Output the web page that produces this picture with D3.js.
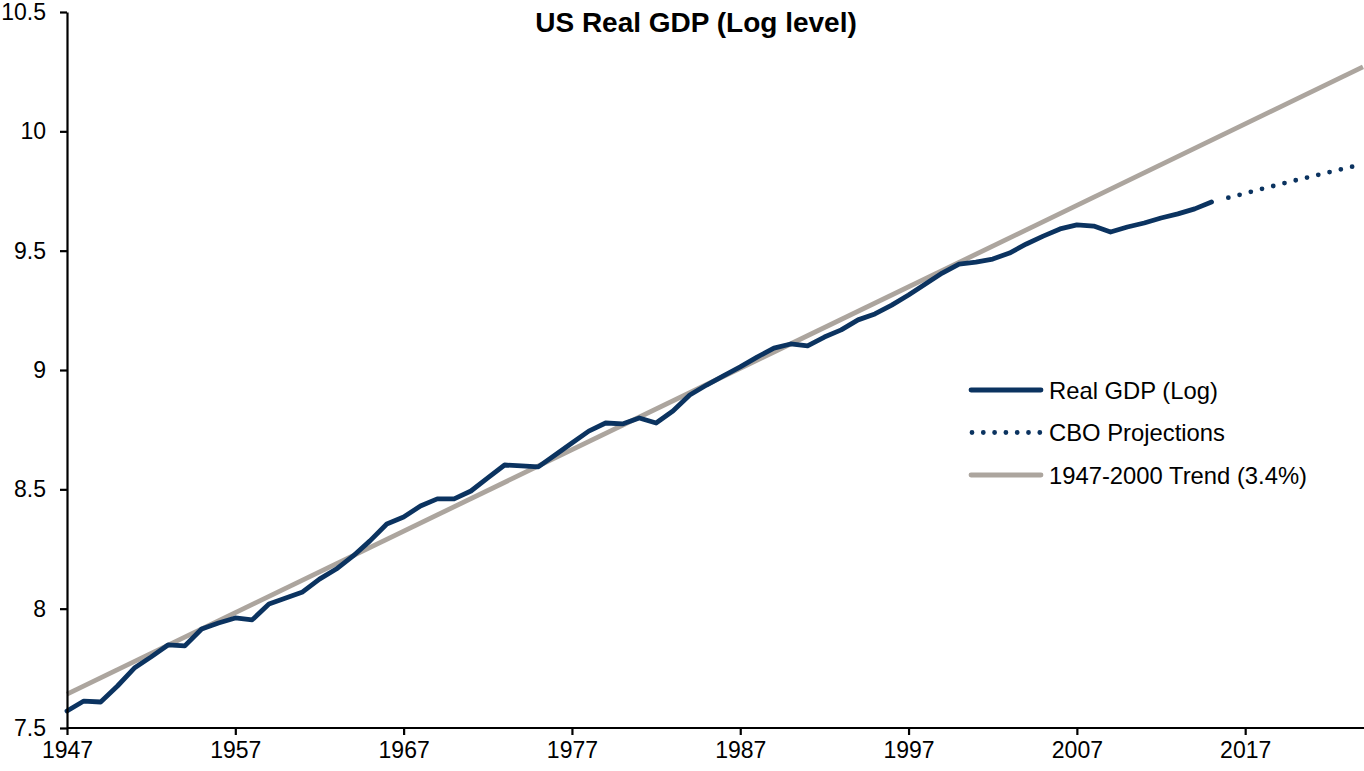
<!DOCTYPE html>
<html>
<head>
<meta charset="utf-8">
<script src="https://cdn.jsdelivr.net/npm/d3@7"></script>
<style>
  body { margin: 0; background: #fff; }
  text { font-family: "Liberation Sans", Arial, sans-serif; }
</style>
</head>
<body>
<div id="graph"></div>
<script>
// data
var years = [1947, 1948, 1949, 1950, 1951, 1952, 1953, 1954, 1955, 1956,
             1957, 1958, 1959, 1960, 1961, 1962, 1963, 1964, 1965, 1966,
             1967, 1968, 1969, 1970, 1971, 1972, 1973, 1974, 1975, 1976,
             1977, 1978, 1979, 1980, 1981, 1982, 1983, 1984, 1985, 1986,
             1987, 1988, 1989, 1990, 1991, 1992, 1993, 1994, 1995, 1996,
             1997, 1998, 1999, 2000, 2001, 2002, 2003, 2004, 2005, 2006,
             2007, 2008, 2009, 2010, 2011, 2012, 2013, 2014, 2015];
var realGdp = [7.571, 7.613, 7.609, 7.676, 7.751, 7.798, 7.848, 7.844, 7.915, 7.940,
               7.961, 7.953, 8.020, 8.045, 8.070, 8.124, 8.166, 8.221, 8.284, 8.355,
               8.384, 8.430, 8.460, 8.460, 8.493, 8.548, 8.602, 8.598, 8.594, 8.644,
               8.694, 8.744, 8.778, 8.774, 8.799, 8.778, 8.828, 8.895, 8.937, 8.975,
               9.013, 9.054, 9.092, 9.109, 9.101, 9.138, 9.168, 9.210, 9.235, 9.272,
               9.314, 9.360, 9.406, 9.444, 9.452, 9.465, 9.490, 9.528, 9.561, 9.591,
               9.608, 9.603, 9.578, 9.599, 9.616, 9.637, 9.654, 9.675, 9.704];

var cboYears = [2015, 2016, 2017, 2018, 2019, 2020, 2021, 2022, 2023, 2024];
var cboValues = [9.704, 9.722, 9.740, 9.759, 9.777, 9.795, 9.812, 9.829, 9.846, 9.863];

var trendYears = [1947, 2024];
var trendValues = [7.642, 10.270];

var xTicks = [1947, 1957, 1967, 1977, 1987, 1997, 2007, 2017];
var yTicks = [7.5, 8, 8.5, 9, 9.5, 10, 10.5];

var seriesNames = ["Real GDP (Log)", "CBO Projections", "1947-2000 Trend (3.4%)"];

var navy = "#0b3360";
var grey = "#aca59e";

var width = 1364, height = 771;

var svg = d3.select("#graph")
            .append("svg")
            .attr("width", width).attr("height", height);

// scales
var xScale = d3.scaleLinear().domain([1947, 2024]).range([67, 1363]);
var yScale = d3.scaleLinear().domain([7.5, 10.5]).range([728, 12]);

var line = d3.line()
    .x(function(d) { return xScale(d[0]); })
    .y(function(d) { return yScale(d[1]); });

// trend line (drawn first, under the GDP line)
svg.append("path")
   .datum(d3.zip(trendYears, trendValues))
   .attr("d", line)
   .attr("fill", "none")
   .attr("stroke", grey)
   .attr("stroke-width", 4.8);

svg.append("path")
   .datum(d3.zip(years, realGdp))
   .attr("d", line)
   .attr("fill", "none")
   .attr("stroke", navy)
   .attr("stroke-width", 4.8)
   .attr("stroke-linejoin", "round")
   .attr("stroke-linecap", "round");

svg.append("path")
   .datum(d3.zip(cboYears, cboValues).slice(1))
   .attr("d", line)
   .attr("fill", "none")
   .attr("stroke", navy)
   .attr("stroke-width", 4.8)
   .attr("stroke-linecap", "round")
   .attr("stroke-dasharray", "0 11.6");

// axes
var xAxis = d3.axisBottom(xScale).tickValues(xTicks).tickFormat(d3.format("d"))
    .tickSizeInner(7).tickSizeOuter(0).tickPadding(7);
var yAxis = d3.axisLeft(yScale).tickValues(yTicks).tickFormat(function(d) { return d; })
    .tickSizeInner(7).tickSizeOuter(0).tickPadding(14);

var gx = svg.append("g")
    .attr("transform", "translate(0,728)")
    .call(xAxis);
var gy = svg.append("g")
    .attr("transform", "translate(67,0)")
    .call(yAxis);

[gx, gy].forEach(function(g) {
  g.select(".domain").attr("stroke", "#000").attr("stroke-width", 2.2);
  g.selectAll(".tick line").attr("stroke", "#000").attr("stroke-width", 2.2);
  g.selectAll(".tick text")
   .attr("fill", "#000")
   .style("font-size", "23px")
   .style("font-family", "'Liberation Sans', Arial, sans-serif");
});
gx.select(".domain").attr("d", "M67,0H1364");

// title
svg.append("text")
   .attr("x", 696)
   .attr("y", 32)
   .attr("text-anchor", "middle")
   .style("font-size", "28px")
   .style("font-weight", "bold")
   .text("US Real GDP (Log level)");

// legend
var legend = svg.append("g").attr("transform", "translate(971,390)");
seriesNames.forEach(function(name, i) {
  var row = legend.append("g").attr("transform", "translate(0," + (i * 42.5) + ")");
  var ln = row.append("line")
     .attr("x1", 0).attr("x2", 70).attr("y1", 0).attr("y2", 0)
     .attr("stroke", i == 2 ? grey : navy)
     .attr("stroke-width", 4.8)
     .attr("stroke-linecap", "round");
  if (i == 1) ln.attr("x1", 1).attr("stroke-dasharray", "0 11.3");
  row.append("text")
     .attr("x", 78)
     .attr("y", 8.5)
     .style("font-size", "23.8px")
     .text(name);
});
</script>
</body>
</html>
